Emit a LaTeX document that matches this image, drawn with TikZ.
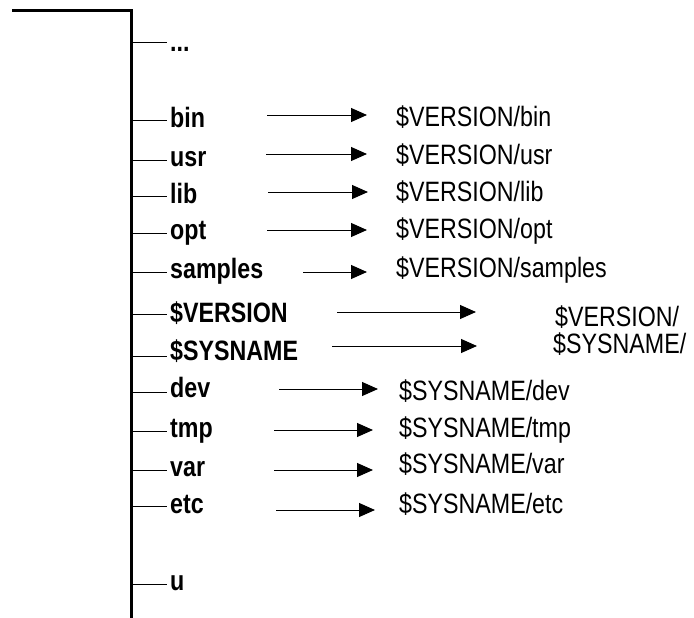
\documentclass[tikz,border=0pt]{standalone}
\usepackage{fontspec}
\setmainfont[FakeStretch=0.83]{Liberation Sans}
\usetikzlibrary{arrows.meta}
\begin{document}
\begin{tikzpicture}[x=1pt,y=-1pt,
  trunk/.style={line width=3pt},
  branch/.style={line width=1pt},
  link/.style={line width=1pt,-{Triangle[length=16pt,width=14pt]}},
  dirlabel/.style={anchor=base west,inner sep=0pt,font=\fontsize{28}{30}\selectfont\bfseries},
  target/.style={anchor=base west,inner sep=0pt,font=\fontsize{28}{30}\selectfont}]
\useasboundingbox (0,0) rectangle (694,618);

% parent directory and its trunk
\draw[trunk] (12,11) -- (131,11) -- (131,618);

% elided entries at the top
\node[dirlabel] (dots) at (170,52) {...};
\coordinate (t-dots) at (131,43);
\draw[branch] (t-dots) -- ([xshift=-3pt]dots.west |- t-dots);

% entries: name / label / branch y / baseline y
\foreach \n/\t/\y/\b in {
    bin/{bin}/120.7/127.5,
    usr/{usr}/160/166,
    lib/{lib}/196.7/203,
    opt/{opt}/233/239,
    samples/{samples}/272.5/278,
    version/{\$VERSION}/314/322,
    sysname/{\$SYSNAME}/356/360,
    dev/{dev}/392/397,
    tmp/{tmp}/431/437,
    var/{var}/470/476,
    etc/{etc}/506.7/513,
    u/{u}/584/590} {
  \node[dirlabel] (\n) at (170,\b) {\t};
  \coordinate (t-\n) at (131,\y);
  \draw[branch] (t-\n) -- ([xshift=-3pt]\n.west |- t-\n);
}

% link targets: name / label / x / baseline / arrow start x / arrow tip x / arrow y
\foreach \n/\t/\x/\b/\s/\e/\y in {
    bin/{\$VERSION/bin}/396/127/267/367/115,
    usr/{\$VERSION/usr}/396/164/266/367/154,
    lib/{\$VERSION/lib}/396/201/268/368/192,
    opt/{\$VERSION/opt}/396/238/267/367/230,
    samples/{\$VERSION/samples}/396/277/303/367/272,
    version/{\$VERSION/}/555/326/337/476/312,
    sysname/{\$SYSNAME/}/553/353/332/477/346,
    dev/{\$SYSNAME/dev}/399/400/279/378/389,
    tmp/{\$SYSNAME/tmp}/399/437/274/373/430,
    var/{\$SYSNAME/var}/399/473/274/373/470,
    etc/{\$SYSNAME/etc}/399/513/276/375/510} {
  \node[target] (r-\n) at (\x,\b) {\t};
  \coordinate (s-\n) at (\s,\y);
  \coordinate (e-\n) at (\e,\y);
  \draw[link] (s-\n) -- (e-\n);
}
\end{tikzpicture}
\end{document}
